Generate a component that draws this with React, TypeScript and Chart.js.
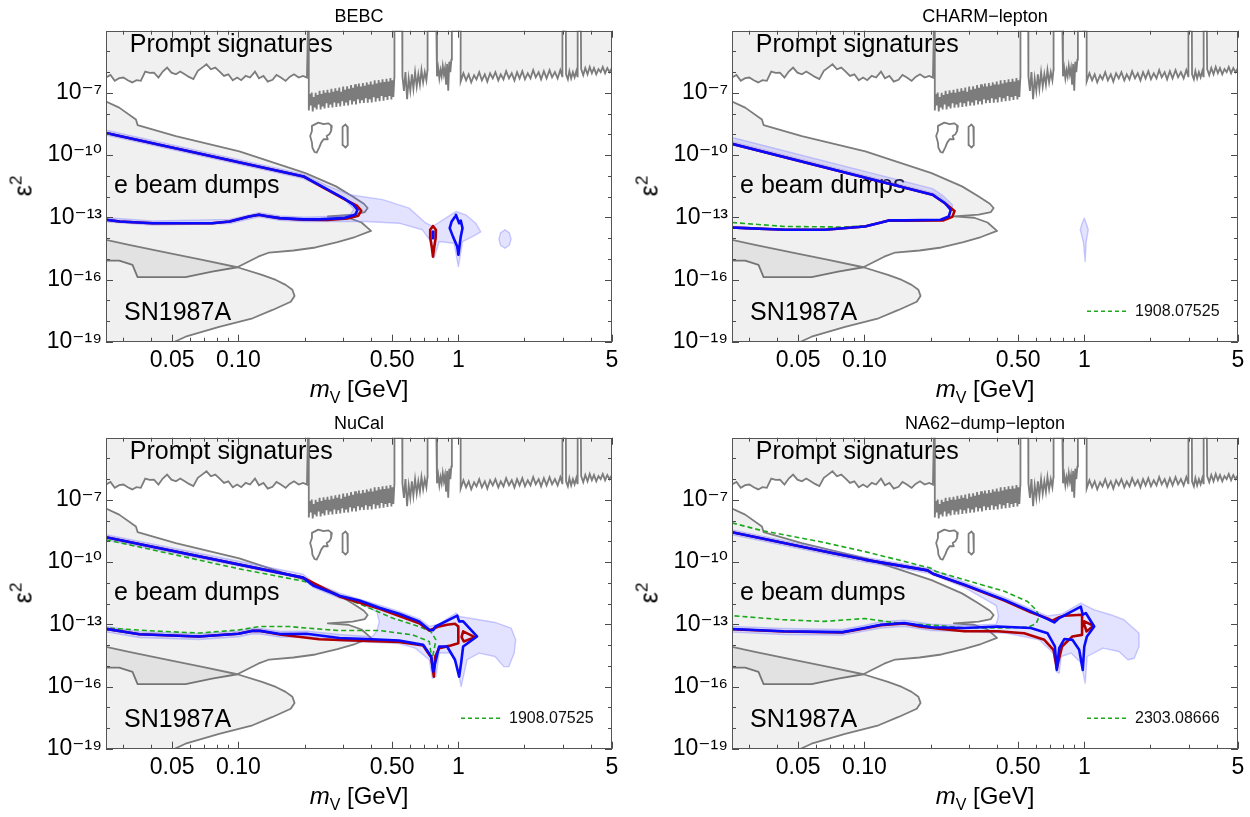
import React, { useEffect, useRef } from 'react';
import { Chart, registerables } from 'chart.js';

Chart.register(...registerables);

type Pt = [number, number];

const FONT = '"Liberation Sans", Arial, Helvetica, sans-serif';
const TICK_FONT = '"Liberation Sans", "DejaVu Sans", Arial, sans-serif';

// ---------- axes ----------
const X_MIN = 0.025;
const X_MAX = 5;
const Y_MIN = 1e-19;
const Y_MAX = 1e-4;
const xTickValues = [0.03, 0.04, 0.05, 0.06, 0.07, 0.08, 0.09, 0.1, 0.2, 0.3, 0.4, 0.5, 0.6, 0.7, 0.8, 0.9, 1, 2, 3, 4, 5];
const xTickLabels = ['', '', '0.05', '', '', '', '', '0.10', '', '', '', '0.50', '', '', '', '', '1', '', '', '', '5'];
const yTickValues = [1e-19, 1e-18, 1e-17, 1e-16, 1e-15, 1e-14, 1e-13, 1e-12, 1e-11, 1e-10, 1e-9, 1e-8, 1e-7, 1e-6, 1e-5];
const yTickLabels = ['10⁻¹⁹', '', '', '10⁻¹⁶', '', '', '10⁻¹³', '', '', '10⁻¹⁰', '', '', '10⁻⁷', '', ''];

// ---------- common background regions ----------
const promptBoundary: Pt[] = [
  [0.025, 5.5e-7], [0.0262, 7.4e-7], [0.0274, 3.8e-7], [0.0287, 5.1e-7], [0.03, 5.5e-7], [0.0314, 4.1e-7], [0.0329, 3.2e-7], [0.0344, 4.1e-7], [0.036, 3.8e-7], [0.0377, 1.07e-6],
  [0.0395, 9.2e-7], [0.0413, 9.5e-7], [0.0433, 5.5e-7], [0.0453, 1.07e-6], [0.0474, 1.66e-6], [0.0496, 9.5e-7], [0.052, 7.9e-7], [0.0544, 1.07e-6], [0.057, 7.9e-7], [0.0596, 5.9e-7],
  [0.0624, 4.6e-7], [0.0654, 1.15e-6], [0.0684, 1.66e-6], [0.0716, 2.4e-6], [0.075, 1.38e-6], [0.0785, 1.66e-6], [0.0822, 1.07e-6], [0.086, 6.6e-7], [0.09, 7.9e-7], [0.0943, 4.1e-7],
  [0.0987, 5.5e-7], [0.103, 4.1e-7], [0.108, 6.6e-7], [0.113, 5.5e-7], [0.119, 1.07e-6], [0.124, 5.1e-7], [0.13, 6.6e-7], [0.136, 3.5e-7], [0.143, 4.3e-7], [0.149, 7.4e-7],
  [0.156, 5.5e-7], [0.164, 3.8e-7], [0.171, 5.9e-7], [0.179, 7.9e-7], [0.188, 5.5e-7], [0.197, 6.6e-7], [0.205, 5.5e-7],
  [0.207, 1e-4], [0.209, 1e-4],
  [0.209, 1.41e-8], [0.2112, 8.9e-8], [0.2133, 2.5e-8], [0.2155, 1.05e-7], [0.2178, 1.26e-8], [0.22, 6.3e-8], [0.2223, 2e-8], [0.2246, 1e-7], [0.2269, 1.58e-8], [0.2293, 7.9e-8],
  [0.2316, 2.8e-8], [0.2341, 1.26e-7], [0.2365, 1.58e-8], [0.239, 8.9e-8], [0.2414, 2.2e-8], [0.2439, 1.32e-7], [0.2465, 1.78e-8], [0.249, 1e-7], [0.2516, 3.2e-8], [0.2542, 1.41e-7],
  [0.2569, 1.91e-8], [0.2594, 1e-7], [0.2621, 2.8e-8], [0.2648, 1.58e-7], [0.2676, 2e-8], [0.2704, 1.12e-7], [0.2732, 3.5e-8], [0.276, 1.66e-7], [0.2789, 2.1e-8], [0.2818, 1.26e-7],
  [0.2847, 3.2e-8], [0.2876, 1.82e-7], [0.2905, 2.2e-8], [0.2935, 1.12e-7], [0.2966, 4e-8], [0.2996, 2e-7], [0.3027, 2.4e-8], [0.3059, 1.41e-7], [0.309, 3.5e-8], [0.3122, 2.1e-7],
  [0.3155, 2.5e-8], [0.3187, 1.58e-7], [0.322, 4.5e-8], [0.3254, 2.4e-7], [0.3287, 2.8e-8], [0.3321, 1.78e-7], [0.3356, 4e-8], [0.3391, 2.6e-7], [0.3426, 2.8e-8], [0.3461, 2e-7],
  [0.3497, 5e-8], [0.3533, 2.8e-7], [0.357, 3.2e-8], [0.3607, 2e-7], [0.3644, 4.5e-8], [0.3682, 3e-7], [0.372, 3.3e-8], [0.3759, 2.2e-7], [0.3797, 5.6e-8], [0.3837, 3.2e-7],
  [0.3876, 3.4e-8], [0.3917, 2.5e-7], [0.3957, 5e-8], [0.3998, 3.5e-7], [0.404, 3.5e-8], [0.4081, 2.5e-7], [0.4124, 6.3e-8], [0.4166, 4e-7], [0.421, 3.8e-8], [0.4253, 2.8e-7],
  [0.4297, 5.6e-8], [0.4342, 4.2e-7], [0.4387, 4e-8], [0.4432, 3.2e-7], [0.4478, 7.1e-8], [0.4524, 4.5e-7], [0.4571, 4.2e-8], [0.4619, 3.3e-7], [0.4666, 6.3e-8], [0.4715, 4.8e-7],
  [0.4763, 4.6e-8], [0.4813, 3.5e-7], [0.4862, 7.1e-8], [0.4913, 5.2e-7], [0.4963, 4.8e-8], [0.5015, 4e-7], [0.5067, 6.3e-8], [0.5119, 5.6e-7],
  [0.5125, 1e-4], [0.556, 1e-4],
  [0.557, 6.3e-7], [0.566, 1.26e-7], [0.575, 1e-6], [0.585, 5e-8], [0.595, 5e-7], [0.605, 1.26e-7], [0.615, 7.9e-7], [0.625, 1.58e-7], [0.636, 1e-6], [0.647, 2e-7],
  [0.658, 7.9e-7], [0.669, 2.5e-7], [0.68, 1.26e-6], [0.692, 3.2e-7], [0.704, 1e-6], [0.716, 4e-7], [0.724, 1.26e-6],
  [0.725, 1e-4], [0.795, 1e-4],
  [0.8, 6.3e-7], [0.81, 1.58e-6], [0.82, 5e-7], [0.83, 1.26e-6], [0.84, 6.3e-7], [0.85, 2e-6], [0.86, 7.9e-7], [0.87, 1.58e-6], [0.88, 2.5e-7], [0.89, 2.5e-6],
  [0.9, 1.26e-7], [0.91, 3.2e-6], [0.92, 1e-6], [0.93, 4e-6],
  [0.935, 1e-4], [1.025, 1e-4],
  [1.025, 3.5e-7], [1.055, 8.9e-7], [1.085, 4e-7], [1.115, 7.9e-7], [1.145, 3.2e-7], [1.18, 7.1e-7], [1.21, 4.5e-7], [1.245, 1e-6], [1.28, 4e-7], [1.32, 7.9e-7],
  [1.355, 3.5e-7], [1.395, 8.9e-7], [1.435, 5e-7], [1.475, 1e-6], [1.52, 4e-7], [1.56, 7.9e-7], [1.605, 4.5e-7], [1.65, 1.12e-6], [1.7, 5e-7], [1.75, 8.9e-7],
  [1.8, 4e-7], [1.85, 1e-6], [1.9, 5e-7], [1.955, 1.12e-6], [2.01, 4.5e-7], [2.07, 8.9e-7], [2.13, 5e-7], [2.19, 1.26e-6], [2.25, 5.6e-7], [2.32, 1e-6],
  [2.38, 4.5e-7], [2.45, 1.12e-6], [2.52, 5e-7], [2.6, 1.26e-6], [2.67, 5.6e-7], [2.75, 1e-6], [2.83, 5e-7], [2.91, 1.26e-6], [2.97, 6.3e-7],
  [2.975, 1e-4], [3.085, 1e-4],
  [3.09, 7.9e-7], [3.15, 4.5e-7], [3.2, 1.12e-6], [3.26, 5e-7], [3.32, 1e-6], [3.38, 5.6e-7], [3.44, 1.12e-6], [3.48, 6.3e-7],
  [3.49, 1e-4], [3.61, 1e-4],
  [3.62, 1.41e-6], [3.7, 7.1e-7], [3.78, 1.58e-6], [3.87, 7.9e-7], [3.96, 1.78e-6], [4.05, 8.9e-7], [4.14, 1.58e-6], [4.24, 7.9e-7], [4.34, 1.41e-6], [4.44, 1e-6],
  [4.54, 1.78e-6], [4.65, 8.9e-7], [4.76, 1.58e-6], [4.87, 1e-6], [5.0, 1.58e-6],
];

const blobContour: Pt[] = [
  [0.216, 2.57e-9], [0.231, 3.7e-9], [0.244, 3.1e-9], [0.256, 3.4e-9], [0.266, 2.57e-9], [0.264, 1.45e-9], [0.259, 1e-9], [0.252, 8.3e-10], [0.255, 5.8e-10], [0.244, 5.8e-10],
  [0.238, 4e-10], [0.233, 2.3e-10], [0.227, 1.32e-10], [0.222, 1.41e-10], [0.217, 2.3e-10], [0.216, 4e-10], [0.212, 8.3e-10], [0.216, 1.45e-9], [0.216, 2.57e-9],
];

const ovalContour: Pt[] = [
  [0.307, 3.0e-9], [0.313, 2.3e-9], [0.315, 1.41e-9], [0.315, 5e-10], [0.313, 3e-10], [0.307, 2.3e-10], [0.299, 3e-10], [0.297, 5e-10], [0.297, 1.41e-9], [0.299, 2.3e-9], [0.307, 3.0e-9],
];

const eBeamDumps: Pt[] = [
  [0.025, 3.8e-8], [0.0287, 1.95e-8], [0.0342, 5.2e-9], [0.0348, 2.8e-9], [0.0519, 8.3e-10], [0.101, 1.51e-10], [0.202, 1.35e-11], [0.278, 3.1e-12], [0.331, 1e-12], [0.372, 4.5e-13],
  [0.387, 2.8e-13], [0.376, 1.78e-13], [0.331, 1.35e-13], [0.255, 1.1e-13], [0.316, 9.5e-14], [0.363, 5.6e-14], [0.401, 2.2e-14], [0.339, 1.12e-14], [0.282, 6.3e-15], [0.224, 3.5e-15],
  [0.178, 2.5e-15], [0.138, 2.0e-15], [0.123, 1.26e-15], [0.0989, 3.9e-16], [0.0759, 2.4e-16], [0.0575, 1.29e-16], [0.0348, 1.29e-16], [0.033, 5.1e-16], [0.0287, 8.1e-16], [0.025, 8.1e-16],
];

const sn1987a: Pt[] = [
  [0.025, 8.1e-15], [0.0318, 4.7e-15], [0.0484, 1.86e-15], [0.0686, 8.9e-16], [0.0989, 3.9e-16], [0.128, 1.66e-16], [0.148, 9.5e-17], [0.164, 5.5e-17], [0.176, 3.2e-17], [0.18, 1.62e-17],
  [0.173, 8.5e-18], [0.143, 3.4e-18], [0.116, 1.35e-18], [0.0817, 5.2e-19], [0.0575, 1.74e-19], [0.0513, 1e-19], [0.0446, 5e-20], [0.025, 5e-20],
];

// ---------- BEBC ----------
const bebcBlue: Pt[] = [
  [0.025, 1.17e-9], [0.198, 9.3e-12], [0.233, 3.7e-12], [0.3, 8.5e-13], [0.333, 4.1e-13], [0.348, 2.3e-13], [0.34, 1.32e-13], [0.3, 9.1e-14], [0.233, 7.9e-14], [0.198, 7.9e-14],
  [0.154, 9.1e-14], [0.135, 1.12e-13], [0.124, 1.32e-13], [0.112, 1.1e-13], [0.0912, 6.3e-14], [0.0759, 5.2e-14], [0.0407, 5.2e-14], [0.0289, 6.3e-14], [0.025, 7.6e-14],
];
const bebcRed: Pt[] = [
  [0.025, 1.17e-9], [0.198, 9.3e-12], [0.233, 3.5e-12], [0.3, 7.9e-13], [0.347, 3.5e-13], [0.362, 2.1e-13], [0.351, 1.2e-13], [0.313, 8.7e-14], [0.254, 7.4e-14], [0.198, 7.6e-14],
  [0.154, 9.1e-14], [0.135, 1.12e-13], [0.124, 1.32e-13], [0.112, 1.1e-13], [0.0912, 6.3e-14], [0.0759, 5.2e-14], [0.0407, 5.2e-14], [0.0289, 6.3e-14], [0.025, 7.6e-14],
];
const bebcRedLoop: Pt[] = [
  [0.767, 3.8e-14], [0.791, 2.5e-14], [0.789, 1e-14], [0.776, 3.2e-15], [0.767, 1.26e-15], [0.759, 3.2e-15], [0.746, 1e-14], [0.745, 2.5e-14], [0.767, 3.8e-14],
];
const bebcBlueLoop: Pt[] = [
  [0.975, 1.32e-13], [0.995, 7.6e-14], [1.009, 5.2e-14], [1.026, 6.9e-14], [1.045, 3.0e-14], [1.026, 1.17e-14], [1.001, 1.55e-15], [0.989, 3.9e-15], [0.946, 1.17e-14], [0.914, 3.0e-14],
  [0.933, 6.3e-14], [0.968, 1.1e-13], [0.975, 1.32e-13],
];
const bebcBlueDot: Pt[] = [[0.767, 2.0e-14], [0.767, 1.0e-14]];
const bebcBand: Pt[] = [
  [0.025, 1.58e-9], [0.198, 1.2e-11], [0.251, 3.5e-12], [0.32, 1.23e-12], [0.453, 7.1e-13], [0.598, 2.75e-13], [0.713, 5.2e-14], [0.764, 3.6e-14], [0.877, 9.1e-14], [0.975, 1.9e-13],
  [1.081, 1.32e-13], [1.2, 5.2e-14], [1.265, 2.0e-14], [1.159, 1.17e-14], [1.045, 6.8e-15], [1.001, 4.2e-16], [0.957, 5.6e-15], [0.818, 6.8e-15], [0.776, 1.07e-15], [0.75, 6.8e-15],
  [0.687, 2.5e-14], [0.538, 5.2e-14], [0.38, 6.3e-14], [0.282, 6.3e-14], [0.198, 6.3e-14], [0.154, 7.2e-14], [0.124, 1.05e-13], [0.0912, 5e-14], [0.0407, 4.2e-14], [0.025, 6e-14],
  [0.025, 9.5e-14], [0.0407, 6.6e-14], [0.0912, 7.9e-14], [0.124, 1.66e-13], [0.154, 1.15e-13], [0.198, 1e-13], [0.282, 1.12e-13], [0.324, 1.41e-13], [0.335, 2.5e-13], [0.295, 1e-12],
  [0.198, 7.4e-12], [0.025, 9.3e-10],
];
const bebcBandIsland: Pt[] = [
  [1.63, 2.5e-14], [1.706, 1.78e-14], [1.738, 8.9e-15], [1.706, 4.5e-15], [1.63, 3.2e-15], [1.556, 4.5e-15], [1.531, 8.9e-15], [1.556, 1.78e-14], [1.63, 2.5e-14],
];

// ---------- CHARM-lepton ----------
const charmBlue: Pt[] = [
  [0.025, 3.5e-10], [0.204, 1.23e-12], [0.232, 4.9e-13], [0.247, 2.3e-13], [0.242, 1.1e-13], [0.222, 7.6e-14], [0.152, 7.1e-14], [0.129, 7.1e-14], [0.119, 5.6e-14], [0.1005, 3.6e-14],
  [0.0661, 2.5e-14], [0.0437, 2.5e-14], [0.0288, 3.0e-14], [0.025, 3.2e-14],
];
const charmRed: Pt[] = [
  [0.025, 3.5e-10], [0.204, 1.23e-12], [0.234, 4.5e-13], [0.257, 2e-13], [0.251, 1.05e-13], [0.229, 7.1e-14], [0.152, 6.8e-14], [0.129, 7.1e-14], [0.119, 5.6e-14], [0.1005, 3.6e-14],
  [0.0661, 2.5e-14], [0.0437, 2.5e-14], [0.0288, 3.0e-14], [0.025, 3.2e-14],
];
const charmGreen: Pt[] = [
  [0.025, 5.6e-14], [0.0437, 3.6e-14], [0.0813, 3.4e-14], [0.1, 3.9e-14], [0.119, 5.5e-14], [0.129, 6.8e-14], [0.158, 7.1e-14],
];
const charmBand: Pt[] = [
  [0.025, 7.1e-10], [0.204, 2.4e-12], [0.229, 1.05e-12], [0.251, 4e-13], [0.251, 2.5e-13], [0.237, 5e-13], [0.219, 1.05e-12], [0.204, 1.51e-12], [0.025, 4.5e-10],
];
const charmBandIsland: Pt[] = [
  [1.0, 9.1e-14], [1.028, 4e-14], [1.042, 2.5e-14], [1.019, 6.3e-15], [1.009, 7.4e-16], [0.991, 6.3e-15], [0.959, 2.5e-14], [0.977, 5e-14], [1.0, 9.1e-14],
];

// ---------- NuCal ----------
const nucalBlue: Pt[] = [
  [0.025, 1.58e-9], [0.197, 1.78e-11], [0.219, 7.4e-12], [0.288, 2.4e-12], [0.355, 1.41e-12], [0.438, 6.3e-13], [0.538, 3.2e-13], [0.664, 1.38e-13], [0.738, 5.5e-14], [0.769, 5.2e-14],
  [0.785, 7.6e-14], [0.989, 2.6e-13], [1.009, 1.38e-13], [1.052, 1.38e-13], [1.216, 2.6e-14], [1.052, 8.5e-15], [1.03, 1.35e-15], [1.009, 3.0e-16], [0.966, 1.95e-15], [0.889, 8.5e-15],
  [0.818, 8.5e-15], [0.778, 9.1e-16], [0.769, 5.2e-16], [0.753, 2.8e-15], [0.692, 1.02e-14], [0.538, 1.66e-14], [0.407, 1.9e-14], [0.288, 2.2e-14], [0.204, 3.5e-14], [0.155, 3.4e-14],
  [0.126, 4.8e-14], [0.115, 4.8e-14], [0.1, 3.5e-14], [0.0661, 2.6e-14], [0.0355, 3.3e-14], [0.025, 6e-14],
];
const nucalRed: Pt[] = [
  [0.025, 1.58e-9], [0.197, 1.78e-11], [0.288, 2.2e-12], [0.438, 5.6e-13], [0.664, 1.12e-13], [0.738, 5e-14], [0.818, 7.9e-14], [0.889, 9.5e-14], [0.966, 1.07e-13], [1.0, 7.9e-14],
  [1.0, 1.23e-14], [0.908, 9.1e-15], [0.818, 7.1e-15], [0.785, 2.8e-15], [0.774, 3.0e-16], [0.753, 2.5e-15], [0.692, 9.5e-15], [0.538, 1.41e-14], [0.385, 1.58e-14], [0.233, 1.9e-14],
  [0.154, 3.2e-14], [0.126, 4.8e-14], [0.115, 4.8e-14], [0.1, 3.5e-14], [0.0661, 2.6e-14], [0.0355, 3.3e-14], [0.025, 6e-14],
];
const nucalRedLoop: Pt[] = [[1.052, 4.6e-14], [1.189, 2.4e-14], [1.059, 1.48e-14], [1.035, 2.4e-14], [1.052, 4.6e-14]];
const nucalGreen: Pt[] = [
  [0.025, 1.2e-9], [0.101, 4.7e-11], [0.2, 1.17e-11], [0.242, 4.7e-12], [0.38, 7.2e-13], [0.502, 2e-13], [0.664, 7.8e-14], [0.75, 4.5e-14], [0.791, 1.78e-14], [0.776, 5.9e-15],
  [0.759, 1.95e-15], [0.738, 1.48e-14], [0.619, 3.1e-14], [0.438, 5e-14], [0.288, 5e-14], [0.203, 6.6e-14], [0.171, 7.8e-14], [0.125, 7.8e-14], [0.101, 5.4e-14], [0.0667, 3.8e-14],
  [0.0439, 4.6e-14], [0.025, 6.6e-14],
];
const nucalBand: Pt[] = [
  [0.025, 2.1e-9], [0.197, 2.6e-11], [0.219, 1.05e-11], [0.288, 3.2e-12], [0.438, 8.3e-13], [0.538, 4.2e-13], [0.664, 1.82e-13], [0.738, 7.9e-14], [0.813, 1e-13], [0.977, 3.5e-13],
  [1.009, 2.4e-13], [1.242, 1.66e-13], [1.469, 1.23e-13], [1.738, 6.6e-14], [1.824, 1.78e-14], [1.795, 4.1e-15], [1.698, 9.1e-16], [1.611, 9.1e-16], [1.469, 2.8e-15], [1.242, 4.1e-15],
  [1.096, 1.95e-15], [1.03, 1e-16], [0.989, 9.1e-16], [0.927, 4.1e-15], [0.818, 4.1e-15], [0.791, 3e-16], [0.762, 2.5e-16], [0.738, 1.95e-15], [0.637, 7.1e-15], [0.538, 1.17e-14],
  [0.407, 1.35e-14], [0.288, 1.58e-14], [0.204, 2.5e-14], [0.155, 2.4e-14], [0.126, 3.4e-14], [0.115, 3.4e-14], [0.1, 2.5e-14], [0.0661, 1.86e-14], [0.0355, 2.3e-14], [0.025, 4.3e-14],
  [0.025, 7.9e-14], [0.0355, 4.4e-14], [0.0661, 3.5e-14], [0.1, 4.7e-14], [0.115, 6.3e-14], [0.126, 6.3e-14], [0.155, 4.5e-14], [0.204, 4.7e-14], [0.288, 3.2e-14], [0.407, 2.5e-14],
  [0.427, 5e-14], [0.437, 1.26e-13], [0.427, 4e-13], [0.355, 1.07e-12], [0.288, 1.82e-12], [0.219, 6e-12], [0.197, 1.58e-11], [0.025, 1.2e-9],
];

// ---------- NA62-dump-lepton ----------
const na62Blue: Pt[] = [
  [0.025, 2.75e-9], [0.0653, 3.3e-10], [0.1, 1.32e-10], [0.194, 4e-11], [0.205, 2.75e-11], [0.285, 8.1e-12], [0.433, 1.51e-12], [0.571, 4.2e-13], [0.681, 1.78e-13], [0.73, 1.23e-13],
  [0.769, 2e-13], [0.964, 7.2e-13], [0.984, 2.9e-13], [1.016, 3.5e-13], [1.109, 7.8e-14], [1.028, 2.6e-14], [1.0, 8.5e-15], [0.984, 6.3e-16], [0.948, 5.9e-15], [0.883, 1.78e-14],
  [0.811, 1.95e-14], [0.769, 7.1e-15], [0.75, 6.3e-16], [0.735, 8.5e-15], [0.681, 3.7e-14], [0.571, 6.6e-14], [0.404, 7.8e-14], [0.285, 6.6e-14], [0.201, 7.2e-14], [0.152, 1.15e-13],
  [0.119, 9.5e-14], [0.1, 6.6e-14], [0.0794, 4.2e-14], [0.043, 4.6e-14], [0.025, 5.9e-14],
];
const na62Red: Pt[] = [
  [0.025, 2.75e-9], [0.0653, 3.3e-10], [0.1, 1.32e-10], [0.194, 4e-11], [0.205, 2.75e-11], [0.285, 7.8e-12], [0.433, 1.41e-12], [0.571, 3.8e-13], [0.681, 1.9e-13], [0.716, 1.51e-13],
  [0.769, 2.2e-13], [0.811, 2.6e-13], [0.977, 2.9e-13], [0.977, 3.1e-14], [0.883, 2.6e-14], [0.792, 8.5e-15], [0.75, 7.6e-16], [0.724, 5.9e-15], [0.658, 1.78e-14], [0.533, 3.7e-14],
  [0.404, 4.6e-14], [0.285, 4.6e-14], [0.224, 6e-14], [0.178, 7.9e-14], [0.152, 1.1e-13], [0.119, 9.1e-14], [0.1, 6.3e-14], [0.0794, 4e-14], [0.043, 4.5e-14], [0.025, 5.8e-14],
];
const na62RedLoop: Pt[] = [[1.0, 1.38e-13], [1.102, 8.5e-14], [1.023, 4.5e-14], [1.007, 7.9e-14], [1.0, 1.38e-13]];
const na62Green: Pt[] = [
  [0.025, 7.8e-9], [0.0342, 3.3e-9], [0.0653, 8.9e-10], [0.104, 2.95e-10], [0.201, 5.1e-11], [0.212, 3.5e-11], [0.285, 1.41e-11], [0.433, 3.9e-12], [0.552, 1.26e-12], [0.603, 5e-13],
  [0.624, 2.4e-13], [0.603, 1.05e-13], [0.552, 7.2e-14], [0.404, 6.6e-14], [0.285, 6.6e-14], [0.223, 8.5e-14], [0.142, 1.15e-13], [0.1, 1.9e-13], [0.0653, 1.38e-13], [0.0427, 1.66e-13],
  [0.025, 2.6e-13],
];
const na62Band: Pt[] = [
  [0.025, 3.6e-9], [0.1, 1.74e-10], [0.194, 5.2e-11], [0.285, 1.07e-11], [0.433, 2e-12], [0.571, 5.5e-13], [0.681, 2.5e-13], [0.794, 3.2e-13], [0.964, 1.05e-12], [1.109, 5e-13],
  [1.318, 2.9e-13], [1.514, 1.66e-13], [1.774, 3.7e-14], [1.774, 8.5e-15], [1.687, 2.3e-15], [1.578, 1.95e-15], [1.439, 4.9e-15], [1.216, 7.1e-15], [1.03, 2.8e-15], [1.009, 1.45e-16],
  [0.968, 1.35e-15], [0.871, 4.1e-15], [0.785, 2.8e-15], [0.769, 4.4e-16], [0.746, 5.2e-16], [0.723, 4.1e-15], [0.624, 1.78e-14], [0.447, 3.7e-14], [0.285, 4.5e-14], [0.201, 5e-14],
  [0.152, 7.9e-14], [0.119, 6.6e-14], [0.1, 4.7e-14], [0.0794, 3e-14], [0.043, 3.2e-14], [0.025, 4.2e-14],
  [0.025, 7.9e-14], [0.043, 6.3e-14], [0.0794, 5.6e-14], [0.1, 8.9e-14], [0.119, 1.32e-13], [0.152, 1.58e-13], [0.201, 1e-13], [0.285, 8.9e-14], [0.398, 1e-13], [0.407, 2.5e-13],
  [0.398, 7.9e-13], [0.285, 6e-12], [0.194, 3e-11], [0.1, 1e-10], [0.025, 2.1e-9],
];

// ---------- labels ----------
const regionLabels = [
  { text: 'Prompt signatures', x: 0.0321, y: 9.1e-6 },
  { text: 'e beam dumps', x: 0.0272, y: 1.48e-12 },
  { text: 'SN1987A', x: 0.0302, y: 1.12e-18 },
];

// ---------- styles ----------
const GRAY_FILL = 'rgba(0,0,0,0.058)';
const GRAY_LINE = '#7c7c7c';
const LB_FILL = 'rgba(105,105,255,0.19)';
const LB_LINE = 'rgba(120,120,255,0.38)';
const BLUE = '#0a0aff';
const RED = '#b00000';
const GREEN = '#1ea81e';

const toXY = (pts: Pt[]) => pts.map(([x, y]) => ({ x, y }));
const ds = (pts: Pt[], o: any) => ({
  data: toXY(pts), showLine: true, pointRadius: 0, pointHoverRadius: 0, pointHitRadius: 0, tension: 0,
  borderJoinStyle: 'round', borderCapStyle: 'round', ...o,
});
const grayArea = (pts: Pt[], order: number) => ds(pts, { fill: 'shape', backgroundColor: GRAY_FILL, borderColor: GRAY_LINE, borderWidth: 1.8, order });
const grayLine = (pts: Pt[]) => ds(pts, { fill: false, borderColor: GRAY_LINE, borderWidth: 1.8, order: 19 });
const band = (pts: Pt[]) => ds(pts, { fill: 'shape', backgroundColor: LB_FILL, borderColor: LB_LINE, borderWidth: 1.4, order: 10 });
const green = (pts: Pt[]) => ds(pts, { fill: false, borderColor: GREEN, borderWidth: 1.6, borderDash: [5, 3], borderCapStyle: 'butt', order: 4 });
const red = (pts: Pt[]) => ds(pts, { fill: false, borderColor: RED, borderWidth: 2.6, order: 3 });
const blue = (pts: Pt[]) => ds(pts, { fill: false, borderColor: BLUE, borderWidth: 2.6, order: 2 });

const background = () => [
  ds(promptBoundary, { fill: 'end', backgroundColor: GRAY_FILL, borderColor: GRAY_LINE, borderWidth: 1.8, borderJoinStyle: 'miter', order: 20 }),
  grayLine(blobContour),
  grayLine(ovalContour),
  grayArea(eBeamDumps, 18),
  grayArea(sn1987a, 17),
];

const panels = [
  {
    title: 'BEBC', legend: '',
    sets: () => [...background(), band(bebcBand), band(bebcBandIsland), red(bebcRed), red(bebcRedLoop), blue(bebcBlue), blue(bebcBlueLoop), ds(bebcBlueDot, { fill: false, borderColor: BLUE, borderWidth: 3, order: 1 })],
  },
  {
    title: 'CHARM−lepton', legend: '1908.07525',
    sets: () => [...background(), band(charmBand), band(charmBandIsland), green(charmGreen), red(charmRed), blue(charmBlue)],
  },
  {
    title: 'NuCal', legend: '1908.07525',
    sets: () => [...background(), band(nucalBand), green(nucalGreen), red(nucalRed), red(nucalRedLoop), blue(nucalBlue)],
  },
  {
    title: 'NA62−dump−lepton', legend: '2303.08666',
    sets: () => [...background(), band(na62Band), green(na62Green), red(na62Red), red(na62RedLoop), blue(na62Blue)],
  },
];

const decorPlugin = {
  id: 'decor',
  beforeDatasetsDraw(chart: any) {
    const { ctx } = chart;
    const xs = chart.scales.x;
    const ys = chart.scales.y;
    ctx.save();
    ctx.fillStyle = '#000';
    ctx.font = `25px ${FONT}`;
    ctx.textAlign = 'left';
    ctx.textBaseline = 'alphabetic';
    for (const l of regionLabels) ctx.fillText(l.text, xs.getPixelForValue(l.x), ys.getPixelForValue(l.y));
    ctx.restore();
  },
  afterDatasetsDraw(chart: any, _args: any, opts: any) {
    if (!opts || !opts.legend) return;
    const { ctx, chartArea: ca } = chart;
    const yy = ca.top + 280.5;
    ctx.save();
    ctx.strokeStyle = GREEN;
    ctx.lineWidth = 1.6;
    ctx.setLineDash([4, 3]);
    ctx.beginPath();
    ctx.moveTo(ca.left + 355, yy);
    ctx.lineTo(ca.left + 395, yy);
    ctx.stroke();
    ctx.setLineDash([]);
    ctx.fillStyle = '#111';
    ctx.font = `16px ${FONT}`;
    ctx.textBaseline = 'middle';
    ctx.textAlign = 'left';
    ctx.fillText(opts.legend, ca.left + 403, yy);
    ctx.restore();
  },
  afterDraw(chart: any) {
    const { ctx, chartArea: ca } = chart;
    const xs = chart.scales.x;
    const ys = chart.scales.y;
    ctx.save();
    ctx.strokeStyle = '#4a4a4a';
    ctx.lineWidth = 1;
    ctx.beginPath();
    xTickValues.forEach((v, i) => {
      const px = Math.round(xs.getPixelForValue(v)) + 0.5;
      const len = xTickLabels[i] ? 7 : 4;
      ctx.moveTo(px, ca.bottom); ctx.lineTo(px, ca.bottom - len);
      ctx.moveTo(px, ca.top); ctx.lineTo(px, ca.top + len);
    });
    yTickValues.forEach((v, i) => {
      const py = Math.round(ys.getPixelForValue(v)) + 0.5;
      const len = yTickLabels[i] ? 7 : 4;
      ctx.moveTo(ca.left, py); ctx.lineTo(ca.left + len, py);
      ctx.moveTo(ca.right, py); ctx.lineTo(ca.right - len, py);
    });
    ctx.stroke();
    ctx.strokeStyle = '#555';
    ctx.strokeRect(Math.round(ca.left) + 0.5, Math.round(ca.top) + 0.5, Math.round(ca.right - ca.left) - 1, Math.round(ca.bottom - ca.top) - 1);
    ctx.restore();
  },
};

function buildConfig(p: any) {
  return {
    type: 'scatter',
    data: { datasets: p.sets() },
    plugins: [decorPlugin],
    options: {
      responsive: false,
      animation: false,
      devicePixelRatio: 1,
      events: [],
      layout: { padding: { left: 0, right: 12, top: 0, bottom: 0 }, autoPadding: false },
      plugins: {
        legend: { display: false },
        tooltip: { enabled: false },
        title: {
          display: true, text: p.title, fullSize: false, color: '#000',
          font: { size: 18, family: FONT, weight: 'normal' }, padding: { top: 6, bottom: 3.1 },
        },
        decor: { legend: p.legend },
      },
      scales: {
        x: {
          type: 'logarithmic', min: X_MIN, max: X_MAX,
          grid: { display: false, drawTicks: false },
          border: { display: false },
          afterBuildTicks: (ax: any) => { ax.ticks = xTickValues.map((v) => ({ value: v })); },
          afterFit: (ax: any) => { ax.height = 68.3; },
          ticks: {
            autoSkip: false, maxRotation: 0, minRotation: 0, padding: 5, color: '#000',
            font: { size: 23, family: TICK_FONT },
            callback: (_v: any, i: number) => xTickLabels[i],
          },
        },
        y: {
          type: 'logarithmic', min: Y_MIN, max: Y_MAX,
          grid: { display: false, drawTicks: false },
          border: { display: false },
          afterBuildTicks: (ax: any) => { ax.ticks = yTickValues.map((v) => ({ value: v })); },
          afterFit: (ax: any) => { ax.width = 106; },
          ticks: {
            autoSkip: false, padding: 4, color: '#000',
            font: { size: 23, family: TICK_FONT },
            callback: (_v: any, i: number) => yTickLabels[i],
          },
        },
      },
    },
  };
}

function Panel({ spec, left, top }: any) {
  const ref = useRef<HTMLCanvasElement | null>(null);
  useEffect(() => {
    const chart = new Chart(ref.current as HTMLCanvasElement, buildConfig(spec) as any);
    return () => chart.destroy();
  }, [spec]);
  return (
    <div style={{ position: 'absolute', left, top, width: 624, height: 410 }}>
      <canvas ref={ref} width={624} height={410} style={{ display: 'block', width: 624, height: 410 }} />
      <div style={{ position: 'absolute', left: 359, top: 377, transform: 'translateX(-50%)', whiteSpace: 'nowrap', font: `24px ${FONT}`, lineHeight: '24px', color: '#000' }}>
        <i>m</i>
        <span style={{ fontSize: 16, position: 'relative', top: 6, lineHeight: 0 }}>V</span>
        {' [GeV]'}
      </div>
      <div style={{ position: 'absolute', left: 23, top: 186, transform: 'translate(-50%, -50%) rotate(-90deg)', whiteSpace: 'nowrap', font: `25px ${FONT}`, lineHeight: '25px', color: '#000' }}>
        ε<span style={{ fontSize: 17, position: 'relative', top: -10, lineHeight: 0 }}>2</span>
      </div>
    </div>
  );
}

export default function App() {
  return (
    <div style={{ position: 'absolute', left: 0, top: 0, width: 1250, height: 817, background: '#fff', overflow: 'hidden' }}>
      {panels.map((p, i) => (
        <Panel key={p.title} spec={p} left={(i % 2) * 626} top={Math.floor(i / 2) * 407} />
      ))}
    </div>
  );
}
